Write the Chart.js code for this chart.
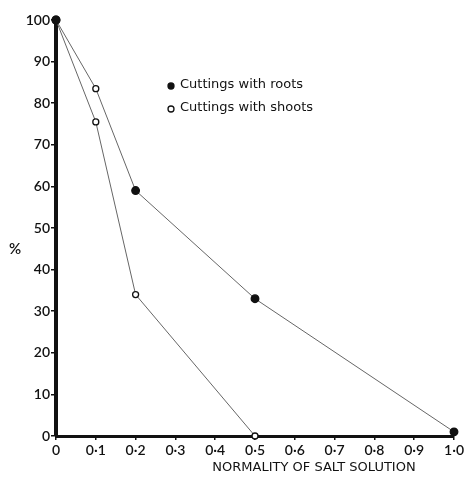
<!DOCTYPE html>
<html>
<head>
<meta charset="utf-8">
<script src="https://cdn.jsdelivr.net/npm/chart.js@4"></script>
<style>
html,body{margin:0;padding:0;background:#fff;}
#wrap{width:466px;height:477px;position:relative;}
</style>
</head>
<body>
<div id="wrap"><canvas id="c" width="466" height="477"></canvas></div>
<script>
const rootsX = [0, 0.1, 0.2, 0.5, 1.0];
const rootsY = [100, 83.5, 59, 33, 1];
const rootsFill = ['#111', '#fff', '#111', '#111', '#111'];
const shootsX = [0, 0.1, 0.2, 0.5];
const shootsY = [100, 75.5, 34, 0];
const shootsFill = ['#111', '#fff', '#fff', '#fff'];
const xTickLabels = ['0', '0·1', '0·2', '0·3', '0·4', '0·5', '0·6', '0·7', '0·8', '0·9', '1·0'];
const yTickLabels = ['0', '10', '20', '30', '40', '50', '60', '70', '80', '90', '100'];
const seriesNames = ['Cuttings with roots', 'Cuttings with shoots'];
const xTitle = 'NORMALITY OF SALT SOLUTION';
const yTitle = '%';

const FONT = 'Lato';
const TFONT = '"DejaVu Sans"';

const extras = {
  id: 'extras',
  afterDraw(chart) {
    const ctx = chart.ctx;
    ctx.save();
    ctx.fillStyle = '#111';
    ctx.font = '600 15px ' + FONT;
    ctx.textAlign = 'center';
    ctx.textBaseline = 'middle';
    ctx.fillText(yTitle, 15, 249);
    // x title
    ctx.font = '13px ' + TFONT;
    ctx.fillText(xTitle, 314, 468);
    // legend
    const items = [
      {label: seriesNames[0], fill: '#111', y: 85},
      {label: seriesNames[1], fill: '#fff', y: 108}
    ];
    ctx.font = '13px ' + TFONT;
    ctx.textAlign = 'left';
    items.forEach(it => {
      ctx.beginPath();
      ctx.arc(171, it.y + 1, 3, 0, Math.PI * 2);
      ctx.fillStyle = it.fill;
      ctx.fill();
      ctx.lineWidth = 1.3;
      ctx.strokeStyle = '#111';
      ctx.stroke();
      ctx.fillStyle = '#111';
      ctx.fillText(it.label, 180, it.y);
    });
    ctx.restore();
  }
};

new Chart(document.getElementById('c'), {
  type: 'scatter',
  data: {
    datasets: [
      {
        label: seriesNames[0],
        data: rootsX.map((x, i) => ({x: x, y: rootsY[i]})),
        showLine: true,
        clip: false,
        borderColor: '#666',
        borderWidth: 1,
        pointRadius: rootsFill.map(f => f === '#fff' ? 3 : 3.8),
        pointBackgroundColor: rootsFill,
        pointBorderColor: '#111',
        pointBorderWidth: 1.3
      },
      {
        label: seriesNames[1],
        data: shootsX.map((x, i) => ({x: x, y: shootsY[i]})),
        showLine: true,
        clip: false,
        borderColor: '#666',
        borderWidth: 1,
        pointRadius: shootsFill.map(f => f === '#fff' ? 3 : 3.8),
        pointBackgroundColor: shootsFill,
        pointBorderColor: '#111',
        pointBorderWidth: 1.3
      }
    ]
  },
  options: {
    responsive: false,
    animation: false,
    events: [],
    layout: {padding: {top: 20, right: 11, left: 0, bottom: 0}},
    plugins: {legend: {display: false}, tooltip: {enabled: false}},
    scales: {
      x: {
        type: 'linear', min: 0, max: 1,
        afterFit(s) { s.height = 41; },
        ticks: {
          stepSize: 0.1, autoSkip: false, maxRotation: 0,
          color: '#111', padding: 2,
          font: {family: FONT, size: 14, weight: '600'},
          callback: (v, i) => xTickLabels[i]
        },
        grid: {display: true, drawOnChartArea: false, drawTicks: true, tickLength: 4, color: '#111', lineWidth: 1.5},
        border: {display: true, color: '#111', width: 3}
      },
      y: {
        type: 'linear', min: 0, max: 100,
        afterFit(s) { s.width = 56; },
        ticks: {
          stepSize: 10, autoSkip: false,
          color: '#111', padding: 1,
          font: {family: FONT, size: 14, weight: '600'},
          callback: (v, i) => yTickLabels[i]
        },
        grid: {display: true, drawOnChartArea: false, drawTicks: true, tickLength: 5, color: '#111', lineWidth: 1.5},
        border: {display: true, color: '#111', width: 4}
      }
    }
  },
  plugins: [extras]
});
</script>
</body>
</html>
